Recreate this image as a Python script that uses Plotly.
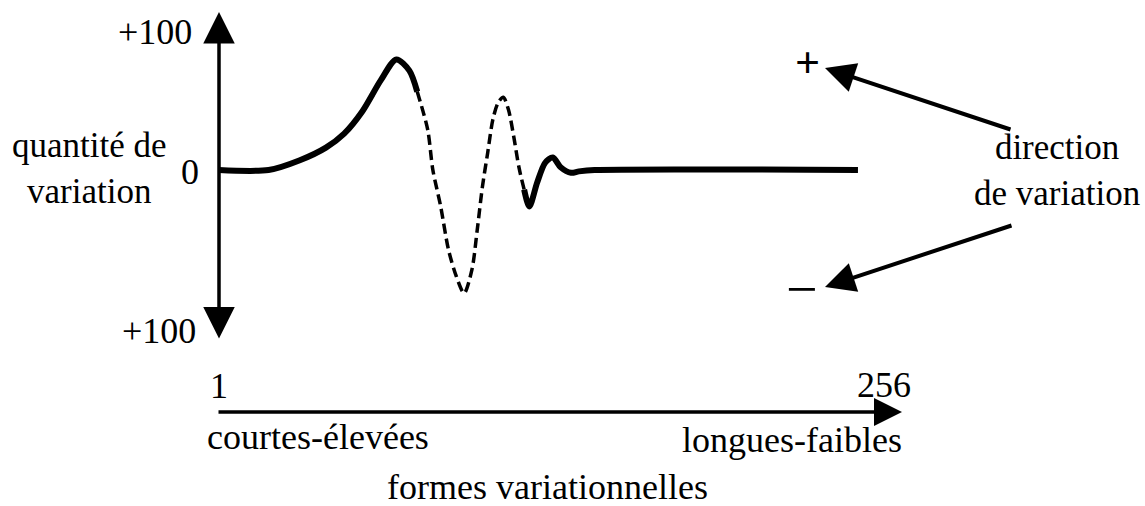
import plotly.graph_objects as go

W, H = 1145, 506

# Variational forms index (1 = courtes-élevées ... 256 = longues-faibles)
# and quantity of variation for each segment of the profile
rise_x = [1, 20, 32, 42, 49, 56, 63, 69, 74, 77]
rise_y = [0, 0, 7, 16, 26, 42, 64, 79, 71, 56]

osc_x = [77, 81, 83, 86, 89, 92, 95, 98, 100, 102, 104, 106, 108, 110, 112, 114, 116, 118]
osc_y = [56, 29, 0, -26, -57, -76, -88, -71, -43, -12, 12, 36, 48, 52, 43, 24, 2, -14]

tail_x = [118, 120, 123, 126, 129, 132, 136, 139, 145, 246]
tail_y = [-14, -26, -9, 5, 9, 2, -2, -1, 0, 0]

axis_min_label = "1"
axis_max_label = "256"
amount_labels = ["+100", "0", "+100"]

# pixel geometry of the drawing
ORIGIN_X, ORIGIN_Y = 219, 170
PX_PER_INDEX = 2.608
PX_PER_UNIT = 1.4

x_range = [1 - ORIGIN_X / PX_PER_INDEX, 1 + (W - ORIGIN_X) / PX_PER_INDEX]
y_range = [(ORIGIN_Y - H) / PX_PER_UNIT, ORIGIN_Y / PX_PER_UNIT]


def px(x):
    return x / W


def py(y):
    return 1 - y / H


FONT = "Liberation Serif, Times New Roman, serif"
FS = 36
INK = "black"

fig = go.Figure()
fig.add_trace(go.Scatter(x=rise_x, y=rise_y, mode="lines",
                         line=dict(color=INK, width=6, shape="spline", smoothing=0.8)))
fig.add_trace(go.Scatter(x=osc_x, y=osc_y, mode="lines",
                         line=dict(color=INK, width=3.5, dash="10px,5px",
                                   shape="spline", smoothing=0.8)))
fig.add_trace(go.Scatter(x=tail_x, y=tail_y, mode="lines",
                         line=dict(color=INK, width=6, shape="spline", smoothing=0.8)))

ann = []


def text(s, x, y, xa="center", size=FS):
    ann.append(dict(text=s, x=px(x), y=py(y), xref="paper", yref="paper",
                    xanchor=xa, yanchor="middle", showarrow=False, align="center",
                    font=dict(family=FONT, size=size, color=INK)))


def arrow(x1, y1, x0, y0, width, size, both=False):
    ann.append(dict(text="", x=px(x1), y=py(y1), xref="paper", yref="paper",
                    ax=x0 - x1, ay=y0 - y1, axref="pixel", ayref="pixel",
                    showarrow=True, arrowhead=2, startarrowhead=2,
                    arrowsize=size, startarrowsize=size, arrowwidth=width,
                    arrowcolor=INK, arrowside="end+start" if both else "end",
                    standoff=0, startstandoff=0))


# vertical double-headed axis and horizontal axis
arrow(219, 12, 219, 340, 3.5, 1.8, both=True)
arrow(902, 412, 217, 412, 3.5, 1.6)

# amount labels
text(amount_labels[0], 194, 32, xa="right")
text(amount_labels[1], 190, 172)
text(amount_labels[2], 198, 331, xa="right")
text("quantité de<br>variation", 89, 168, size=35)

# index axis labels
text(axis_min_label, 219, 386)
text(axis_max_label, 884, 385)
text("courtes-élevées", 205, 437, xa="left")
text("longues-faibles", 904, 440, xa="right")
text("formes variationnelles", 385, 487, xa="left")

# direction of variation
text("<b>+</b>", 807, 63, size=44)
text("\u2212", 802, 289, size=56)
text("direction<br>de variation", 1057, 170, size=35)
arrow(825, 68, 1012, 130, 4, 1.5)
arrow(825, 287, 1013, 225, 4, 1.5)

fig.update_layout(
    width=W, height=H,
    margin=dict(l=0, r=0, t=0, b=0),
    paper_bgcolor="white", plot_bgcolor="white",
    showlegend=False,
    xaxis=dict(range=x_range, visible=False, fixedrange=True),
    yaxis=dict(range=y_range, visible=False, fixedrange=True),
    annotations=ann,
)

fig.write_html("out.html")
